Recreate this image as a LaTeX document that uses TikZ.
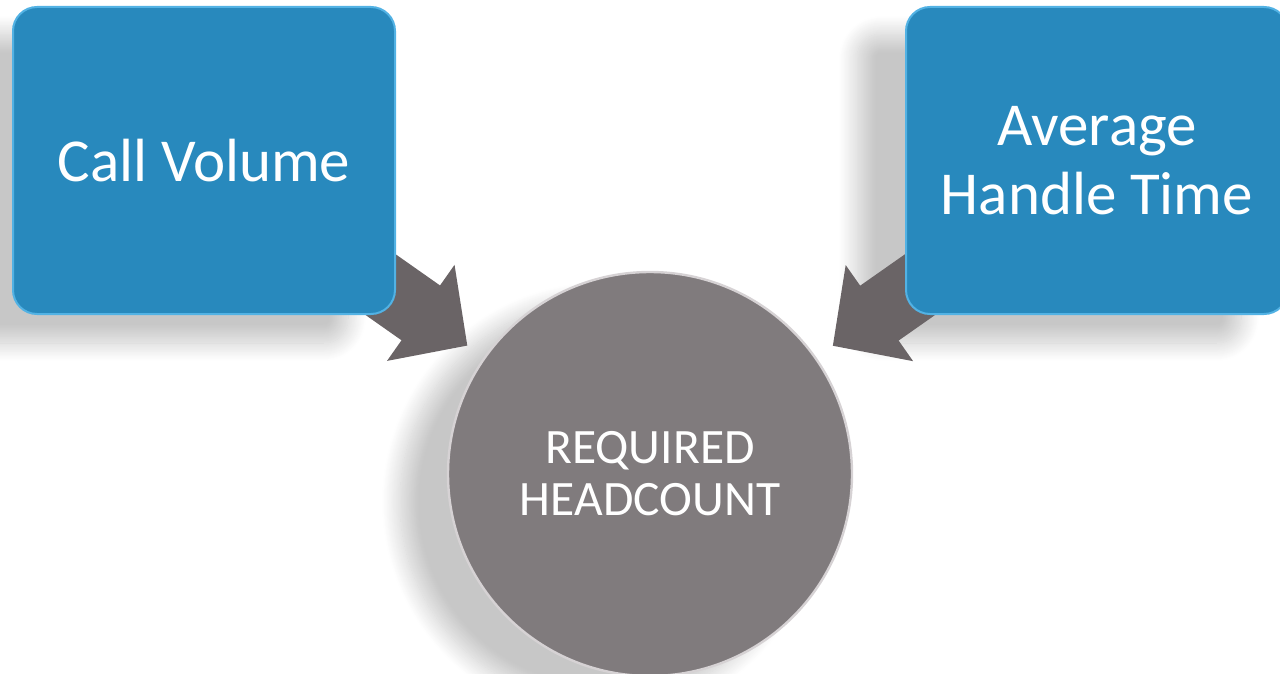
\documentclass[tikz,border=0pt]{standalone}
\usepackage{fontspec}
\setmainfont{Carlito}
\usetikzlibrary{arrows.meta,shadows.blur,positioning}
\definecolor{boxblue}{HTML}{2889BD}
\definecolor{boxrim}{HTML}{52B2E4}
\definecolor{hcgray}{HTML}{807B7D}
\definecolor{hcrim}{HTML}{D6D2D4}
\definecolor{arrowgray}{HTML}{6A6466}
\pgfdeclarelayer{shade}
\pgfdeclarelayer{flow}
\pgfsetlayers{shade,flow,main}
\tikzset{driver/.style={rectangle, rounded corners=12pt, fill=boxblue, draw=boxrim, line width=1pt, minimum width=191pt, minimum height=153.5pt, text=white, align=center, font=\fontsize{30.5}{34.5}\selectfont},
    outcome/.style={circle, fill=hcgray, draw=hcrim, line width=1.2pt, minimum size=202pt, text=white, align=center, font=\fontsize{24.75}{26}\selectfont},
    feeds/.style={arrowgray, line width=33.5pt, -{Triangle[width=57pt,length=28.5pt]}, shorten >=10pt},
    dropshadow/.style={draw=none, blur shadow={shadow xshift=-24pt, shadow yshift=-14pt, shadow blur radius=9pt, shadow blur steps=20, shadow opacity=22}}}

\begin{document}
\begin{tikzpicture}[x=0.5pt,y=-0.5pt]
    \useasboundingbox (0,0) rectangle (1280,674);
    \node[driver] (cv) at (204,160.5) {Call Volume};
    \node[driver] (aht) at (1097,160.5) {Average\\Handle Time};
    \node[outcome] (hc) at (650,474) {REQUIRED\\HEADCOUNT};
    % soft shadows behind everything
    \begin{pgfonlayer}{shade}
        \path[dropshadow, rounded corners=12pt] (cv.north west) rectangle (cv.south east);
        \path[dropshadow, rounded corners=12pt] (aht.north west) rectangle (aht.south east);
        \path[dropshadow] (hc.center) circle (202);
    \end{pgfonlayer}
    % block arrows into the circle
    \begin{pgfonlayer}{flow}
        \draw[feeds] (cv.center) -- (hc);
        \draw[feeds] (aht.center) -- (hc);
    \end{pgfonlayer}
\end{tikzpicture}
\end{document}
